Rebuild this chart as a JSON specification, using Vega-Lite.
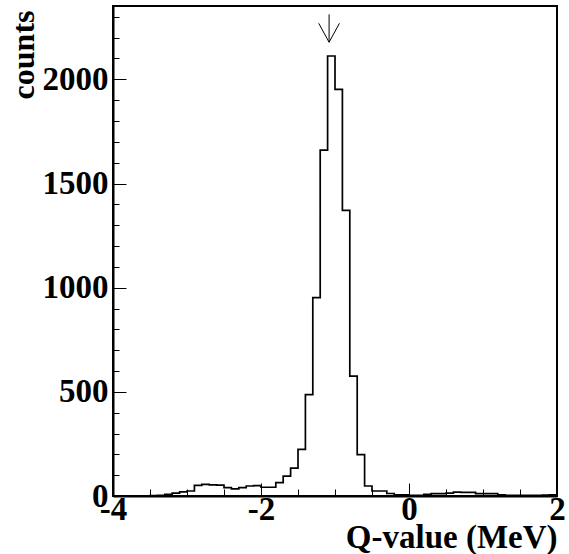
{
  "$schema": "https://vega.github.io/schema/vega-lite/v6.json",
  "width": 444,
  "height": 490,
  "autosize": {"type": "none"},
  "padding": {"left": 113, "top": 6, "right": 12, "bottom": 58},
  "background": "white",
  "config": {
    "view": {"stroke": "black", "strokeWidth": 2},
    "axis": {
      "labelFont": "Liberation Serif",
      "labelFontWeight": "bold",
      "labelFontSize": 33,
      "labelColor": "black",
      "titleFont": "Liberation Serif",
      "titleFontWeight": "bold",
      "titleFontSize": 33,
      "titleColor": "black",
      "domainColor": "black",
      "domainWidth": 2,
      "tickColor": "black",
      "tickWidth": 1,
      "grid": false,
      "labelOverlap": false,
      "labelFlush": false,
      "labelBound": false
    }
  },
  "datasets": {
    "hist": [
      {"q": -4.0, "n": 0}, {"q": -3.9, "n": 0}, {"q": -3.8, "n": 0}, {"q": -3.7, "n": 0}, {"q": -3.6, "n": 0},
      {"q": -3.5, "n": 2}, {"q": -3.4, "n": 3}, {"q": -3.3, "n": 8}, {"q": -3.2, "n": 14}, {"q": -3.1, "n": 20},
      {"q": -3.0, "n": 24}, {"q": -2.9, "n": 51}, {"q": -2.8, "n": 56}, {"q": -2.7, "n": 53}, {"q": -2.6, "n": 52},
      {"q": -2.5, "n": 40}, {"q": -2.4, "n": 34}, {"q": -2.3, "n": 40}, {"q": -2.2, "n": 48}, {"q": -2.1, "n": 50},
      {"q": -2.0, "n": 42}, {"q": -1.9, "n": 42}, {"q": -1.8, "n": 64}, {"q": -1.7, "n": 95}, {"q": -1.6, "n": 134},
      {"q": -1.5, "n": 224}, {"q": -1.4, "n": 487}, {"q": -1.3, "n": 952}, {"q": -1.2, "n": 1660}, {"q": -1.1, "n": 2112},
      {"q": -1.0, "n": 1952}, {"q": -0.9, "n": 1371}, {"q": -0.8, "n": 575}, {"q": -0.7, "n": 199}, {"q": -0.6, "n": 48},
      {"q": -0.5, "n": 24}, {"q": -0.4, "n": 24}, {"q": -0.3, "n": 12}, {"q": -0.2, "n": 6}, {"q": -0.1, "n": 5},
      {"q": 0.0, "n": 3}, {"q": 0.1, "n": 3}, {"q": 0.2, "n": 8}, {"q": 0.3, "n": 11}, {"q": 0.4, "n": 11},
      {"q": 0.5, "n": 14}, {"q": 0.6, "n": 19}, {"q": 0.7, "n": 17}, {"q": 0.8, "n": 17}, {"q": 0.9, "n": 11},
      {"q": 1.0, "n": 11}, {"q": 1.1, "n": 11}, {"q": 1.2, "n": 6}, {"q": 1.3, "n": 3}, {"q": 1.4, "n": 3},
      {"q": 1.5, "n": 3}, {"q": 1.6, "n": 3}, {"q": 1.7, "n": 3}, {"q": 1.8, "n": 4}, {"q": 1.9, "n": 6},
      {"q": 2.0, "n": 6}
    ],
    "arrow": [
      {"x": -1.08, "y": 2312, "x2": -1.08, "y2": 2178},
      {"x": -1.22, "y": 2269, "x2": -1.08, "y2": 2178},
      {"x": -0.94, "y": 2269, "x2": -1.08, "y2": 2178}
    ]
  },
  "resolve": {"axis": {"x": "independent", "y": "independent"}},
  "layer": [
    {
      "data": {"name": "hist"},
      "mark": {"type": "line", "interpolate": "step-after", "color": "black", "strokeWidth": 1.7, "clip": true},
      "encoding": {
        "x": {
          "field": "q", "type": "quantitative",
          "scale": {"domain": [-4, 2], "nice": false, "zero": false},
          "axis": {
            "orient": "bottom",
            "title": "Q-value (MeV)",
            "values": [-4, -2, 0, 2],
            "labelExpr": "'' + datum.value",
            "labelOverlap": false,
            "tickSize": -13,
            "labelPadding": 10,
            "titleAnchor": "end",
            "titleAlign": "right",
            "titleBaseline": "alphabetic",
            "titleX": 444,
            "titleY": 51
          }
        },
        "y": {
          "field": "n", "type": "quantitative",
          "scale": {"domain": [0, 2352], "nice": false},
          "axis": {
            "orient": "left",
            "title": "counts",
            "titleFontSize": 32,
            "values": [0, 500, 1000, 1500, 2000],
            "labelExpr": "'' + datum.value",
            "labelOverlap": false,
            "tickSize": -13,
            "labelPadding": 18,
            "titleAngle": 270,
            "titleAlign": "right",
            "titleBaseline": "alphabetic",
            "titleX": -80,
            "titleY": 4
          }
        }
      }
    },
    {
      "data": {"name": "arrow"},
      "mark": {"type": "rule", "color": "black", "strokeWidth": 1},
      "encoding": {
        "x": {
          "field": "x", "type": "quantitative",
          "axis": {
            "orient": "bottom",
            "title": null,
            "labels": false,
            "domain": false,
            "values": [-3.5, -3, -2.5, -1.5, -1, -0.5, 0.5, 1, 1.5],
            "tickSize": -7
          }
        },
        "y": {
          "field": "y", "type": "quantitative",
          "axis": {
            "orient": "left",
            "title": null,
            "labels": false,
            "domain": false,
            "values": [100, 200, 300, 400, 600, 700, 800, 900, 1100, 1200, 1300, 1400, 1600, 1700, 1800, 1900, 2100, 2200, 2300],
            "tickSize": -6
          }
        },
        "x2": {"field": "x2"},
        "y2": {"field": "y2"}
      }
    }
  ]
}
